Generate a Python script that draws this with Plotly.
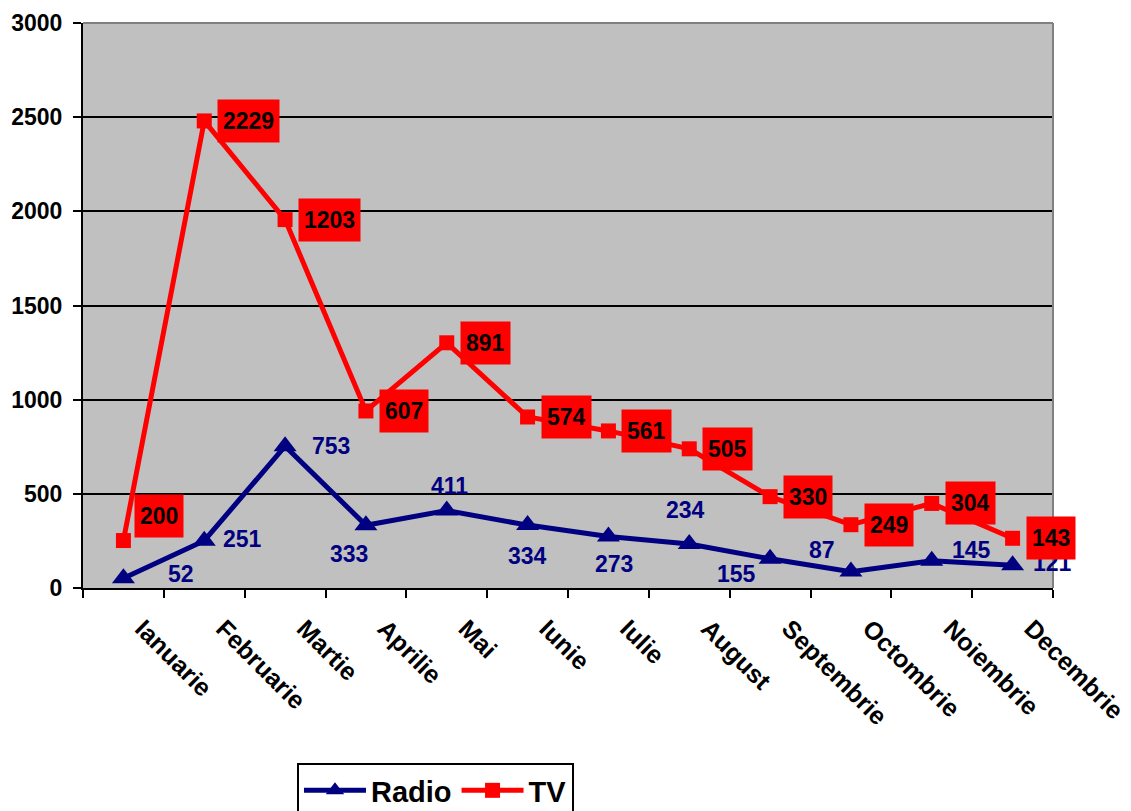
import plotly.graph_objects as go

months = ["Ianuarie", "Februarie", "Martie", "Aprilie", "Mai", "Iunie", "Iulie",
          "August", "Septembrie", "Octombrie", "Noiembrie", "Decembrie"]
radio = [52, 251, 753, 333, 411, 334, 273, 234, 155, 87, 145, 121]
tv = [200, 2229, 1203, 607, 891, 574, 561, 505, 330, 249, 304, 143]
y_ticks = [0, 500, 1000, 1500, 2000, 2500, 3000]

NAVY = "#000080"
RED = "#FF0000"
FONT = "Arial, Liberation Sans, sans-serif"

# label offsets (pixels) for the data labels, as placed in the original
radio_off = [(58, 4), (38, 2), (46, 0), (-17, -29), (3, 25), (0, -31), (6, -27),
             (-4, 34), (-34, -15), (-29, 22), (40, 11), (40, 2)]
tv_off = [(11, 25)] + [(13, 0)] * 11

fig = go.Figure()
fig.add_trace(go.Scatter(
    x=months, y=radio, name="Radio", mode="lines+markers", stackgroup="s", fill="none",
    line=dict(color=NAVY, width=5),
    marker=dict(symbol="triangle-up", size=20, color=NAVY),
    hoverinfo="skip",
))
fig.add_trace(go.Scatter(
    x=months, y=tv, name="TV", mode="lines+markers", stackgroup="s", fill="none",
    line=dict(color=RED, width=5),
    marker=dict(symbol="square", size=15, color=RED),
    hoverinfo="skip",
))

annotations = []
for m, r, (dx, dy) in zip(months, radio, radio_off):
    annotations.append(dict(
        x=m, y=r, xref="x", yref="y", text=str(r), showarrow=False,
        xshift=dx, yshift=dy,
        font=dict(family=FONT, size=23, color=NAVY, weight="bold"),
    ))
for m, r, t, (dx, dy) in zip(months, radio, tv, tv_off):
    annotations.append(dict(
        x=m, y=r + t, xref="x", yref="y", text=str(t), showarrow=False,
        xanchor="left", xshift=dx, yshift=dy, bgcolor=RED, borderpad=5, height=32,
        font=dict(family=FONT, size=23, color="black", weight="bold"),
    ))

# the page body has an 8px margin, so the figure is sized/offset to compensate
fig.update_layout(
    width=1123, height=803,
    margin=dict(l=75, r=78, t=15, b=223, autoexpand=False),
    paper_bgcolor="white",
    plot_bgcolor="#C0C0C0",
    font=dict(family=FONT, color="black"),
    showlegend=True,
    legend=dict(
        orientation="h", x=0.2206, xanchor="left", y=-0.3097, yanchor="top",
        bgcolor="white", bordercolor="black", borderwidth=2,
        itemwidth=62,
        font=dict(family=FONT, size=29, color="black", weight="bold"),
    ),
    annotations=annotations,
    shapes=[
        dict(type="line", xref="paper", yref="paper", x0=0, x1=1, y0=1, y1=1,
             line=dict(color="#808080", width=2), layer="above"),
        dict(type="line", xref="paper", yref="paper", x0=1, x1=1, y0=0, y1=1,
             line=dict(color="#808080", width=2), layer="above"),
    ],
)
fig.update_xaxes(
    type="category", range=[-0.5, 11.5], automargin=False,
    showline=True, linecolor="black", linewidth=2,
    ticks="outside", tickson="boundaries", ticklen=8, tickwidth=2, tickcolor="black",
    tickangle=45, showgrid=False, ticklabelstandoff=14, ticklabelshift=19,
    tickfont=dict(family=FONT, size=25, color="black", weight="bold"),
)
fig.update_yaxes(
    range=[0, 3000], tickvals=y_ticks, automargin=False,
    showline=True, linecolor="black", linewidth=2,
    ticks="outside", ticklen=8, tickwidth=2, tickcolor="black",
    showgrid=True, gridcolor="black", gridwidth=2, zeroline=False,
    ticklabelstandoff=6,
    tickfont=dict(family=FONT, size=23, color="black", weight="bold"),
)

fig.write_html("out.html")
